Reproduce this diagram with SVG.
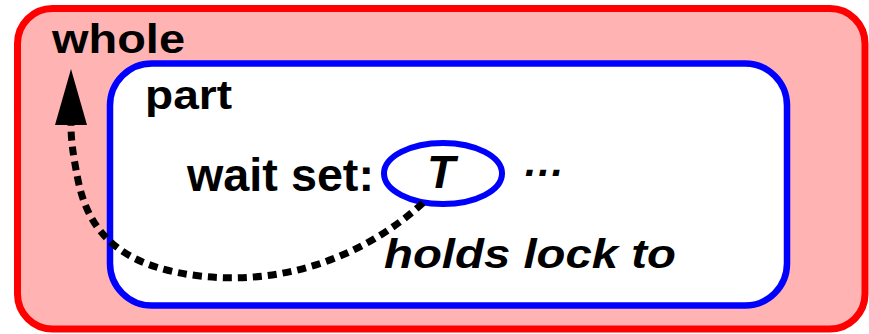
<svg xmlns="http://www.w3.org/2000/svg" width="869" height="334" viewBox="0 0 869 334">
<style>
.lbl{font-family:"Liberation Sans",Arial,sans-serif;font-weight:bold;fill:#000}
.it{font-style:italic}
.conn{fill:none;stroke:#000;stroke-width:7;stroke-dasharray:9 6}
</style>
<defs>
<marker id="ah" markerUnits="userSpaceOnUse" orient="auto" refX="0" refY="16" markerWidth="56" markerHeight="32" viewBox="0 0 56 32">
<path d="M0,0 L56,16 L0,32 z" fill="#000"/>
</marker>
</defs>
<g id="whole">
<rect x="17.5" y="8.5" width="847.5" height="320.5" rx="35" fill="#ffb3b3" stroke="#ff0000" stroke-width="7"/>
<text class="lbl" x="52" y="53" font-size="41" textLength="133" lengthAdjust="spacingAndGlyphs">whole</text>
</g>
<g id="part">
<rect x="110" y="63.5" width="677" height="242" rx="42" fill="#fff" stroke="#0000ff" stroke-width="6.5"/>
<text class="lbl" x="145" y="109" font-size="41" textLength="87" lengthAdjust="spacingAndGlyphs">part</text>
<text class="lbl" x="187" y="191" font-size="47" textLength="187" lengthAdjust="spacingAndGlyphs">wait set:</text>
<text class="lbl it" x="523" y="176" font-size="42">…</text>
<text class="lbl it" x="384" y="268" font-size="40" textLength="292" lengthAdjust="spacingAndGlyphs">holds lock to</text>
</g>
<g id="T">
<ellipse cx="443" cy="173.5" rx="59" ry="30.5" fill="#fff" stroke="#0000ff" stroke-width="6"/>
<text class="lbl it" x="441" y="188" font-size="46" text-anchor="middle">T</text>
</g>
<g id="connectors">
<path class="conn" d="M423,203 C360,260 280,285 200,276 C130,268 90,240 78,180 C73,155 71,140 71,125" marker-end="url(#ah)"/>
</g>
</svg>
